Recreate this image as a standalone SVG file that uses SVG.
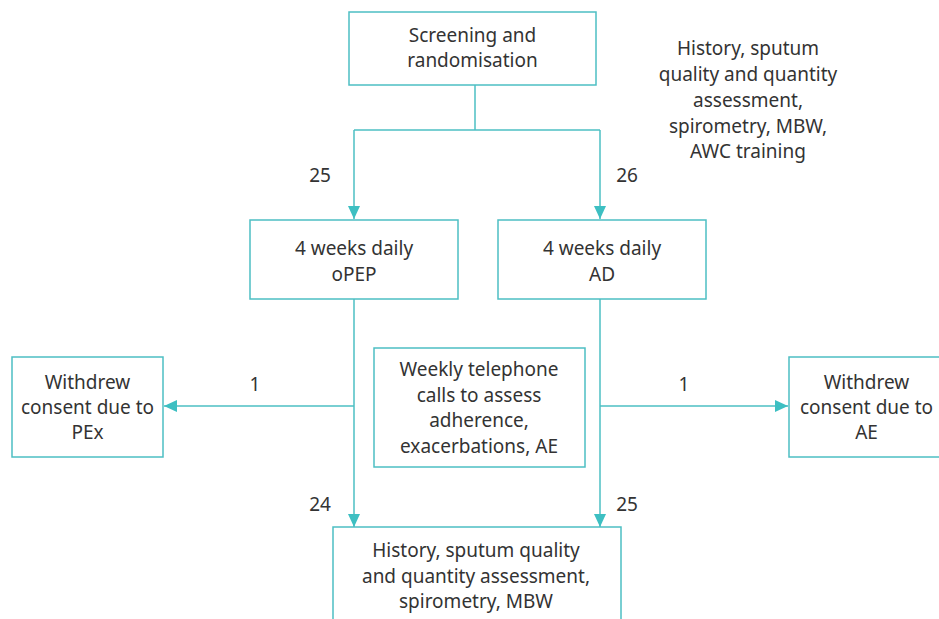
<svg xmlns="http://www.w3.org/2000/svg" width="939" height="619" viewBox="0 0 939 619">
<defs>
<style>
.box{fill:#fff;stroke:#4dbfc3;stroke-width:1.5}
.ln{fill:none;stroke:#4dbfc3;stroke-width:1.5}
text{font-family:"Noto Sans","Liberation Sans",sans-serif;font-size:19px;fill:#333;text-anchor:middle}
</style>
<marker id="ah" markerWidth="14" markerHeight="12" refX="13" refY="6" orient="auto" markerUnits="userSpaceOnUse">
<path d="M0,0 L13,6 L0,12 Z" fill="#3dbfc2"/>
</marker>
</defs>
<rect width="939" height="619" fill="#fff"/>
<g id="connectors">
<path class="ln" d="M475,85 V130"/>
<path class="ln" d="M354,130 H600"/>
<path class="ln" d="M354,130 V219" marker-end="url(#ah)"/>
<path class="ln" d="M600,130 V219" marker-end="url(#ah)"/>
<path class="ln" d="M354,299 V527" marker-end="url(#ah)"/>
<path class="ln" d="M600,299 V527" marker-end="url(#ah)"/>
<path class="ln" d="M354,406 H164" marker-end="url(#ah)"/>
<path class="ln" d="M600,406 H788" marker-end="url(#ah)"/>
<text x="320" y="182">25</text>
<text x="627" y="182">26</text>
<text x="255" y="391">1</text>
<text x="684" y="391">1</text>
<text x="320" y="511">24</text>
<text x="627" y="511">25</text>
</g>
<g id="screening">
<rect class="box" x="349" y="12" width="247" height="73"/>
<text x="472.5" y="42">Screening and</text>
<text x="472.5" y="67">randomisation</text>
</g>
<g id="baseline-note">
<text x="748" y="55">History, sputum</text>
<text x="748" y="81">quality and quantity</text>
<text x="748" y="107">assessment,</text>
<text x="748" y="133">spirometry, MBW,</text>
<text x="748" y="158">AWC training</text>
</g>
<g id="opep">
<rect class="box" x="250" y="220" width="208" height="79"/>
<text x="354" y="255">4 weeks daily</text>
<text x="354" y="281">oPEP</text>
</g>
<g id="ad">
<rect class="box" x="498" y="220" width="208" height="79"/>
<text x="602" y="255">4 weeks daily</text>
<text x="602" y="281">AD</text>
</g>
<g id="withdrew-pex">
<rect class="box" x="12" y="357" width="151" height="100"/>
<text x="87.5" y="389">Withdrew</text>
<text x="87.5" y="414">consent due to</text>
<text x="87.5" y="439">PEx</text>
</g>
<g id="weekly-calls">
<rect class="box" x="374" y="348" width="211" height="119"/>
<text x="479" y="376">Weekly telephone</text>
<text x="479" y="402">calls to assess</text>
<text x="479" y="427">adherence,</text>
<text x="479" y="453">exacerbations, AE</text>
</g>
<g id="withdrew-ae">
<rect class="box" x="789" y="357" width="156" height="100"/>
<text x="866.5" y="389">Withdrew</text>
<text x="866.5" y="414">consent due to</text>
<text x="866.5" y="439">AE</text>
</g>
<g id="followup">
<rect class="box" x="333" y="527" width="288" height="120"/>
<text x="476" y="557">History, sputum quality</text>
<text x="476" y="583">and quantity assessment,</text>
<text x="476" y="608">spirometry, MBW</text>
</g>
</svg>
